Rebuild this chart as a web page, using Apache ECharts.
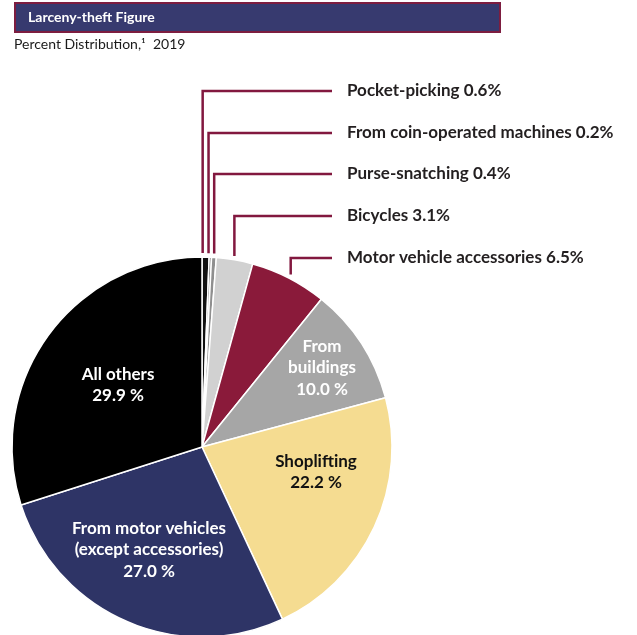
<!DOCTYPE html>
<html><head><meta charset="utf-8">
<script src="https://cdn.jsdelivr.net/npm/echarts@6/dist/echarts.min.js"></script>
<style>html,body{margin:0;padding:0;background:#fff}#c{width:637px;height:635px}</style>
</head><body><div id="c"></div>
<script>
var categories = ['Pocket-picking','From coin-operated machines','Purse-snatching','Bicycles','Motor vehicle accessories','From\nbuildings','Shoplifting','From motor vehicles\n(except accessories)','All others'];
var values = [0.6, 0.2, 0.4, 3.1, 6.5, 10.0, 22.2, 27.0, 29.9];
var colors = ['#111111','#6e6e6e','#8f8f8f','#d1d1d1','#8a1a3a','#a6a6a6','#f5dc91','#2e3466','#000000'];
var outerLabelY = [91, 133, 174, 216, 258];
var leaderShift = [-3, -2, 0, -1, 0];
var innerLabelPos = {5:[322,368], 6:[316,472], 7:[149,550], 8:[118,385]};

var CX = 202, CY = 447, R = 190;
var total = values.reduce(function(a,b){return a+b;},0);
var cum = [];
(function(){var s=0;for(var i=0;i<values.length;i++){cum.push(s+values[i]/2);s+=values[i];}})();

var data = categories.map(function(n,i){
  var item = {name:n, value:values[i], itemStyle:{color:colors[i]}};
  if (i < 5) {
    item.label = {position:'outside', formatter: n + ' ' + values[i].toFixed(1) + '%', color:'#231f20', fontSize:17, fontWeight:'bold'};
    item.labelLine = {show:true};
  } else {
    item.label = {position:'inside', formatter: n + '\n' + values[i].toFixed(1) + ' %',
      color: i===6 ? '#111111' : '#ffffff', fontSize:17, fontWeight:'bold', lineHeight:21.5, align:'center'};
    item.labelLine = {show:false};
  }
  return item;
});

var chart = echarts.init(document.getElementById('c'));
chart.setOption({
  animation:false,
  textStyle:{fontFamily:'Lato'},
  graphic:[{type:'rect', shape:{x:15,y:3,width:485,height:29}, style:{fill:'#373a6f', stroke:'#7d1d40', lineWidth:2}}],
  title:[
    {text:'Larceny-theft Figure', left:28, top:10, padding:0, textStyle:{color:'#fff', fontSize:14, fontWeight:'bold', fontFamily:'Lato'}},
    {text:'Percent Distribution,\u00b9  2019', left:14, top:37, padding:0, textStyle:{color:'#1a1a1a', fontSize:14, fontWeight:'normal', fontFamily:'Lato'}}
  ],
  series:[{
    type:'pie', center:[CX,CY], radius:R, startAngle:90, clockwise:true, avoidLabelOverlap:false,
    itemStyle:{borderColor:'#fff', borderWidth:1.5},
    labelLine:{lineStyle:{color:'#82183f', width:2.5}, length:10, length2:10},
    data:data,
    labelLayout:function(p){
      var i = p.dataIndex;
      if (i < 5) {
        var a = cum[i]/total*2*Math.PI;
        var x0 = CX + (R+4)*Math.sin(a) + leaderShift[i];
        var y0 = CY - (R+4)*Math.cos(a);
        var y = outerLabelY[i];
        return {x:347, y:y, align:'left', verticalAlign:'middle', labelLinePoints:[[x0,y0],[x0,y],[332,y]]};
      }
      var q = innerLabelPos[i];
      return {x:q[0], y:q[1], align:'center', verticalAlign:'middle'};
    }
  }]
});
</script></body></html>
